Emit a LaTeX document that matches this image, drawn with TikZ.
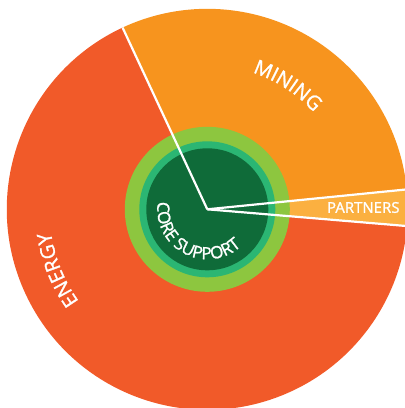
\documentclass[tikz,border=0pt]{standalone}
\usepackage{fontspec}
\setmainfont{Open Sans}
\newfontfamily\chartfont{Open Sans}[FakeBold=1.3]
\usetikzlibrary{decorations.text}
\definecolor{energyred}{HTML}{F15A29}
\definecolor{miningorange}{HTML}{F7941E}
\definecolor{partnersorange}{HTML}{FBB040}
\definecolor{ringlime}{HTML}{8DC63F}
\definecolor{ringgreen}{HTML}{2BB673}
\definecolor{coregreen}{HTML}{0F6B39}

\begin{document}
\begin{tikzpicture}[x=1pt, y=1pt,
  energy/.style = {fill=energyred},
  mining/.style = {fill=miningorange},
  partners/.style = {fill=partnersorange},
  divider/.style = {draw=white, line width=2.2pt},
  wedgetext/.style = {text=white, inner sep=0pt, font=\chartfont\fontsize{15}{18}\selectfont},
  curvedtext/.style = {decorate, decoration={text along path, text align=center,
                       text color=white, text={#1}}},
  ]
  \useasboundingbox (-207.3,-198.7) rectangle (197.7,209.3);
  \clip (-207.3,-198.7) rectangle (197.7,209.3);
  \coordinate (centre) at (0,0);
  \coordinate (energymining) at (115:200.5);
  \coordinate (miningpartners) at (5.7:200.5);
  \coordinate (partnersenergy) at (-4.8:200.5);
  \fill[energy] (centre) -- (energymining)
    arc[start angle=115, end angle=355.2, radius=200.5] -- cycle;
  \fill[mining] (centre) -- (miningpartners)
    arc[start angle=5.7, end angle=115, radius=200.5] -- cycle;
  \fill[partners] (centre) -- (partnersenergy)
    arc[start angle=-4.8, end angle=5.7, radius=200.5] -- cycle;
  \fill[ringlime] (centre) circle[radius=82.5];
  \fill[ringgreen] (centre) circle[radius=68];
  \fill[coregreen] (centre) circle[radius=61];
  \draw[divider] (centre) -- (energymining);
  \draw[divider] (centre) -- (miningpartners);
  \draw[divider] (centre) -- (partnersenergy);
  \node[wedgetext] (partnerslabel) at (156,1.8) {PARTNERS};
  \path[curvedtext={|\chartfont\fontsize{20}{24}\selectfont|MINING}]
    (87:144) arc[start angle=87, end angle=27, radius=144];
  \path[curvedtext={|\chartfont\fontsize{20}{24}\selectfont|ENERGY}]
    (232:158) arc[start angle=232, end angle=172, radius=158];
  \path[curvedtext={|\chartfont\fontsize{17}{20}\selectfont|CORE SUPPORT}]
    (162:50) arc[start angle=162, end angle=322, radius=50];
\end{tikzpicture}
\end{document}
